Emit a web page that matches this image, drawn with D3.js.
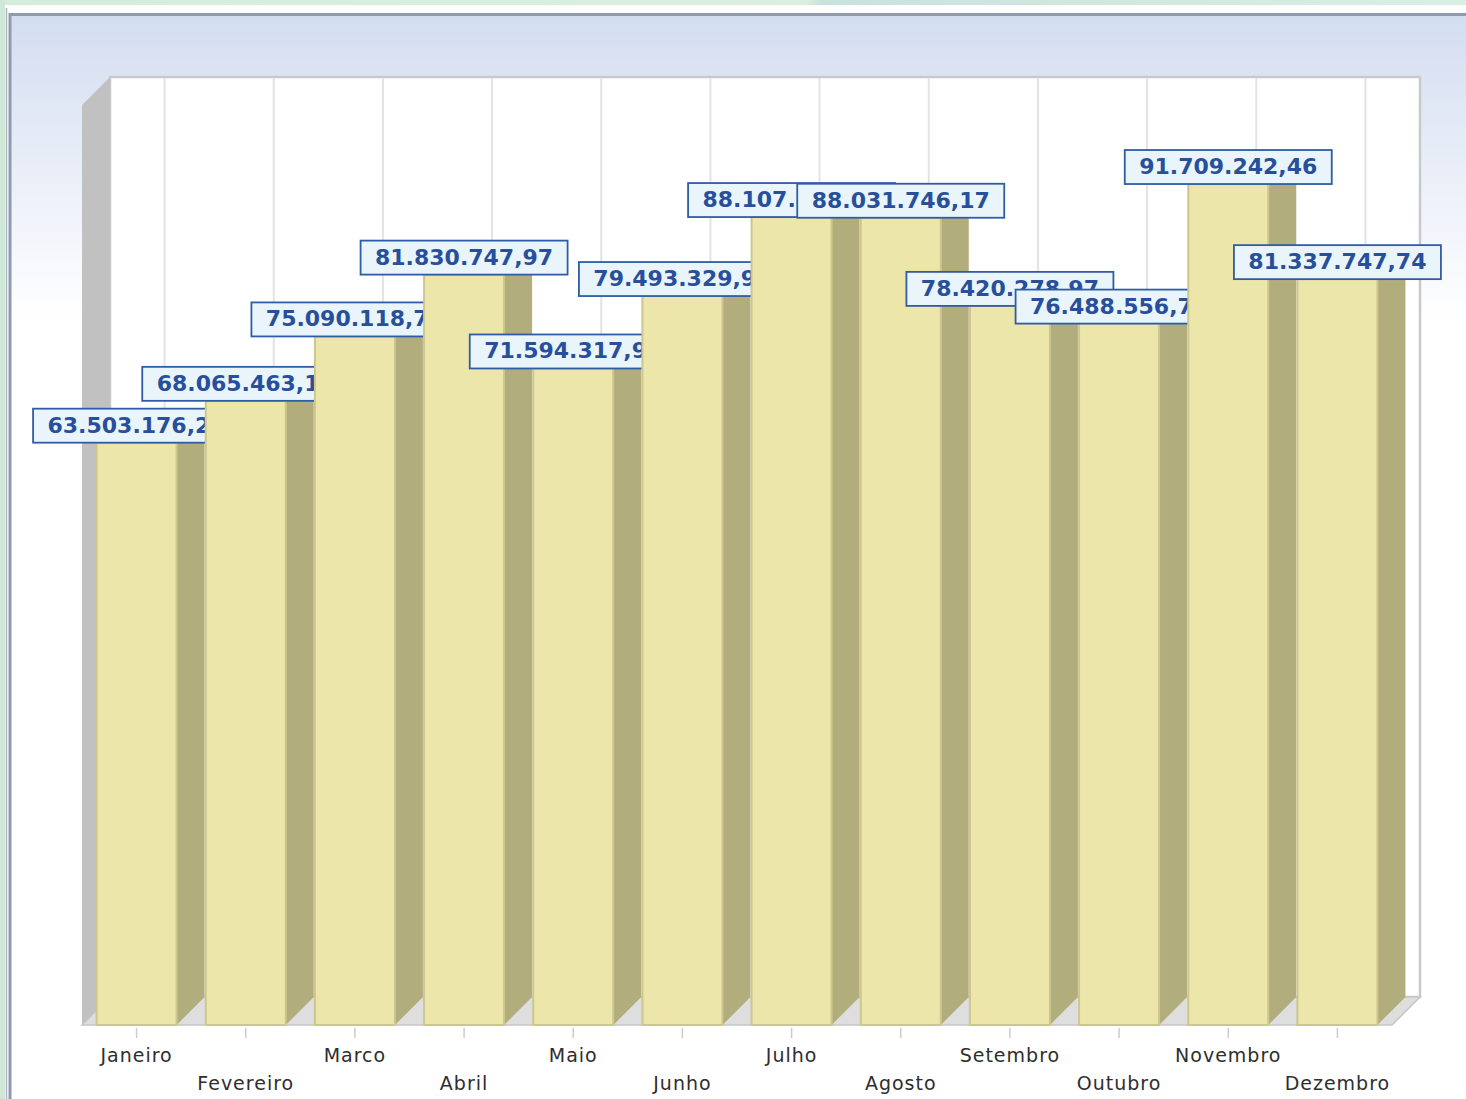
<!DOCTYPE html>
<html>
<head>
<meta charset="utf-8">
<script src="https://cdn.jsdelivr.net/npm/d3@7"></script>
<style>
  html, body { margin: 0; padding: 0; background: #fff; }
  svg { display: block; }
</style>
</head>
<body>
<div class="canvas"></div>
<script>
const MONTHS = ["Janeiro","Fevereiro","Marco","Abril","Maio","Junho","Julho","Agosto","Setembro","Outubro","Novembro","Dezembro"];
const VALUES = [63503176.21, 68065463.14, 75090118.72, 81830747.97, 71594317.93, 79493329.95,
                88107613.08, 88031746.17, 78420278.97, 76488556.75, 91709242.46, 81337747.74];
const LABELS = ["63.503.176,21","68.065.463,14","75.090.118,72","81.830.747,97","71.594.317,93","79.493.329,95",
                "88.107.613,08","88.031.746,17","78.420.278,97","76.488.556,75","91.709.242,46","81.337.747,74"];
const Y_DOMAIN = [0, 100000000];

const canvasWidth = 1466, canvasHeight = 1099;
const left = 82, right = 1392, floorY = 1025, wallTop = 77;
const depth = 28;
const boxW = 207, boxH = 34;

const svg = d3.select(".canvas")
  .append("svg")
  .attr("width", canvasWidth)
  .attr("height", canvasHeight);

const defs = svg.append("defs");
const grad = defs.append("linearGradient")
  .attr("id", "panelGrad")
  .attr("x1", 0).attr("y1", 0).attr("x2", 0).attr("y2", 1);
grad.append("stop").attr("offset", "0%").attr("stop-color", "#d3ddf1");
grad.append("stop").attr("offset", "28%").attr("stop-color", "#ffffff");
grad.append("stop").attr("offset", "100%").attr("stop-color", "#ffffff");

const greenGrad = defs.append("linearGradient").attr("id", "greenGrad");
greenGrad.append("stop").attr("offset", "0%").attr("stop-color", "#d6ecdb");
greenGrad.append("stop").attr("offset", "55%").attr("stop-color", "#dcefe0");
greenGrad.append("stop").attr("offset", "56%").attr("stop-color", "#c8e2dc");
greenGrad.append("stop").attr("offset", "100%").attr("stop-color", "#dbeee4");

// page frame
svg.append("rect").attr("width", canvasWidth).attr("height", canvasHeight).attr("fill", "#fff");
svg.append("rect").attr("x", 0).attr("y", 0).attr("width", canvasWidth).attr("height", 5).attr("fill", "url(#greenGrad)");
svg.append("rect").attr("x", 0).attr("y", 0).attr("width", 5).attr("height", canvasHeight).attr("fill", "#cfe7d6");
svg.append("line").attr("x1", 6.5).attr("x2", 6.5).attr("y1", 8).attr("y2", canvasHeight)
  .attr("stroke", "#a9b3bf").attr("stroke-width", 1.5);
svg.append("rect").attr("x", 10).attr("y", 14.5).attr("width", canvasWidth).attr("height", canvasHeight)
  .attr("fill", "url(#panelGrad)").attr("stroke", "#8f9aac").attr("stroke-width", 3);

// scales
const x = d3.scaleBand().domain(MONTHS).range([left, right]).padding(0);
const y = d3.scaleLinear().domain(Y_DOMAIN).range([floorY, 108]);
const bw = x.bandwidth();
const barW = 80;

// back wall
svg.append("rect")
  .attr("x", left + depth).attr("y", wallTop)
  .attr("width", right - left).attr("height", floorY - depth - wallTop)
  .attr("fill", "#fff").attr("stroke", "#c9c9c9").attr("stroke-width", 2.5);

svg.selectAll("line.grid")
  .data(MONTHS)
  .enter()
  .append("line")
  .attr("class", "grid")
  .attr("x1", d => x(d) + bw / 2 + depth)
  .attr("x2", d => x(d) + bw / 2 + depth)
  .attr("y1", wallTop + 1)
  .attr("y2", floorY - depth)
  .attr("stroke", "#e3e3e3")
  .attr("stroke-width", 2);

// left wall
svg.append("polygon")
  .attr("points", [[left, wallTop + depth], [left + depth, wallTop], [left + depth, floorY - depth], [left, floorY]].join(" "))
  .attr("fill", "#c1c1c1");

// floor
svg.append("polygon")
  .attr("points", [[left, floorY], [left + depth, floorY - depth], [right + depth, floorY - depth], [right, floorY]].join(" "))
  .attr("fill", "#dedede").attr("stroke", "#c6c6c6").attr("stroke-width", 1.5);

// bars + labels, drawn in order so later ones overlap earlier ones
MONTHS.forEach((m, i) => {
  const x0 = x(m) + (bw - barW) / 2;
  const x1 = x0 + barW;
  const yt = y(VALUES[i]);
  const g = svg.append("g");

  g.append("polygon")
    .attr("points", [[x0, yt], [x0 + depth, yt - depth], [x1 + depth, yt - depth], [x1, yt]].join(" "))
    .attr("fill", "#d3cc93");
  g.append("polygon")
    .attr("points", [[x1, yt], [x1 + depth, yt - depth], [x1 + depth, floorY - depth], [x1, floorY]].join(" "))
    .attr("fill", "#b2ad7d");
  g.append("rect")
    .attr("x", x0).attr("y", yt)
    .attr("width", barW).attr("height", floorY - yt)
    .attr("fill", "#ede6aa")
    .attr("stroke", "#cdc68d").attr("stroke-width", 2);

  const cx = x0 + barW / 2;
  g.append("rect")
    .attr("x", cx - boxW / 2).attr("y", yt - boxH)
    .attr("width", boxW).attr("height", boxH)
    .attr("fill", "#e9f5fa")
    .attr("stroke", "#2f5ca6").attr("stroke-width", 1.8);
  g.append("text")
    .attr("x", cx).attr("y", yt - boxH + 24)
    .attr("text-anchor", "middle")
    .attr("font-family", "DejaVu Sans")
    .attr("font-weight", "bold")
    .attr("font-size", 22)
    .attr("fill", "#284f9c")
    .text(LABELS[i]);
});

// category axis
const xAxis = svg.append("g").attr("id", "x-axis");
xAxis.selectAll("line")
  .data(MONTHS)
  .enter()
  .append("line")
  .attr("x1", d => x(d) + bw / 2)
  .attr("x2", d => x(d) + bw / 2)
  .attr("y1", floorY + 3)
  .attr("y2", floorY + 13)
  .attr("stroke", "#cccccc")
  .attr("stroke-width", 1.5);
xAxis.selectAll("text")
  .data(MONTHS)
  .enter()
  .append("text")
  .attr("x", d => x(d) + bw / 2)
  .attr("y", (d, i) => i % 2 === 0 ? 1062 : 1090)
  .attr("text-anchor", "middle")
  .attr("font-family", "DejaVu Sans")
  .attr("font-size", 19)
  .attr("letter-spacing", 1)
  .attr("fill", "#2e2e2e")
  .text(d => d);
</script>
</body>
</html>
